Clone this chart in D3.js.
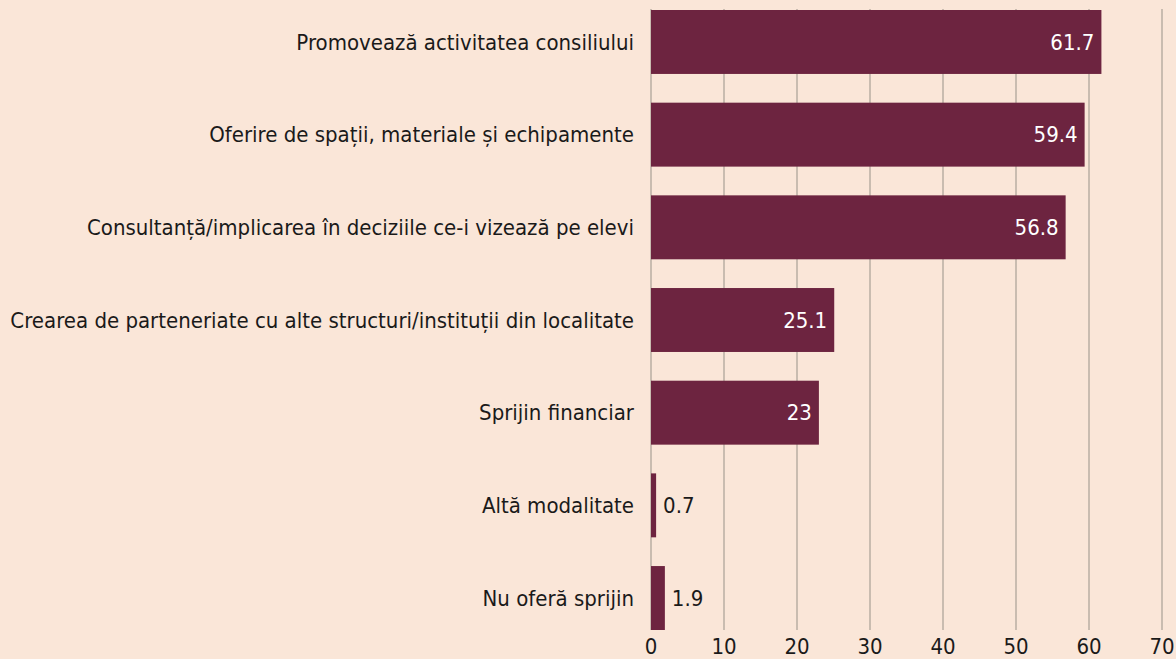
<!DOCTYPE html>
<html>
<head>
<meta charset="utf-8">
<script src="https://cdn.jsdelivr.net/npm/d3@7"></script>
<style>
  html, body { margin: 0; padding: 0; background: #fae6d8; }
  svg { display: block; font-family: "DejaVu Sans Condensed", "DejaVu Sans", sans-serif; }
</style>
</head>
<body>
<div id="chart"></div>
<script>
const categories = [
    "Promovează activitatea consiliului",
    "Oferire de spații, materiale și echipamente",
    "Consultanță/implicarea în deciziile ce-i vizează pe elevi",
    "Crearea de parteneriate cu alte structuri/instituții din localitate",
    "Sprijin financiar",
    "Altă modalitate",
    "Nu oferă sprijin"
];
const values = [61.7, 59.4, 56.8, 25.1, 23, 0.7, 1.9];
const xTicks = [0, 10, 20, 30, 40, 50, 60, 70];

const W = 1176, H = 659;
const margin = {top: 10, right: 14, bottom: 29, left: 651};
const width = W - margin.left - margin.right;
const height = H - margin.top - margin.bottom;
const fontSize = "22px";

const svg = d3.select("#chart").append("svg")
    .attr("width", W)
    .attr("height", H);

svg.append("rect").attr("width", W).attr("height", H).attr("fill", "#fae6d8");

const g = svg.append("g")
    .attr("transform", `translate(${margin.left},${margin.top})`);

const x = d3.scaleLinear().domain([0, 70]).range([0, 511]);

const y = d3.scaleBand()
    .domain(categories)
    .range([0, height])
    .paddingInner(0.31)
    .paddingOuter(0);

// gridlines
g.selectAll(".grid")
    .data(xTicks)
    .enter()
    .append("line")
    .attr("x1", d => x(d))
    .attr("x2", d => x(d))
    .attr("y1", -1)
    .attr("y2", height)
    .attr("stroke", "#c9bcb0")
    .attr("stroke-width", 2);

// tick labels
g.selectAll(".tick-label")
    .data(xTicks)
    .enter()
    .append("text")
    .attr("x", d => x(d))
    .attr("y", height + 24)
    .attr("text-anchor", "middle")
    .style("font-size", fontSize)
    .style("fill", "#1a1a1a")
    .text(d => d);

// bars
g.selectAll(".bar")
    .data(values)
    .enter()
    .append("rect")
    .attr("x", 0)
    .attr("y", (d, i) => y(categories[i]))
    .attr("width", d => x(d))
    .attr("height", y.bandwidth())
    .attr("fill", "#6d2440");

// category labels
g.selectAll(".cat")
    .data(categories)
    .enter()
    .append("text")
    .attr("x", -17)
    .attr("y", d => y(d) + y.bandwidth() / 2)
    .attr("dy", "0.35em")
    .attr("text-anchor", "end")
    .style("font-size", fontSize)
    .style("fill", "#1a1a1a")
    .text(d => d);

// value labels
g.selectAll(".val")
    .data(values)
    .enter()
    .append("text")
    .attr("x", d => d > 10 ? x(d) - 7 : x(d) + 7)
    .attr("y", (d, i) => y(categories[i]) + y.bandwidth() / 2)
    .attr("dy", "0.35em")
    .attr("text-anchor", d => d > 10 ? "end" : "start")
    .style("font-size", fontSize)
    .style("fill", d => d > 10 ? "#ffffff" : "#1a1a1a")
    .text(d => d);
</script>
</body>
</html>
